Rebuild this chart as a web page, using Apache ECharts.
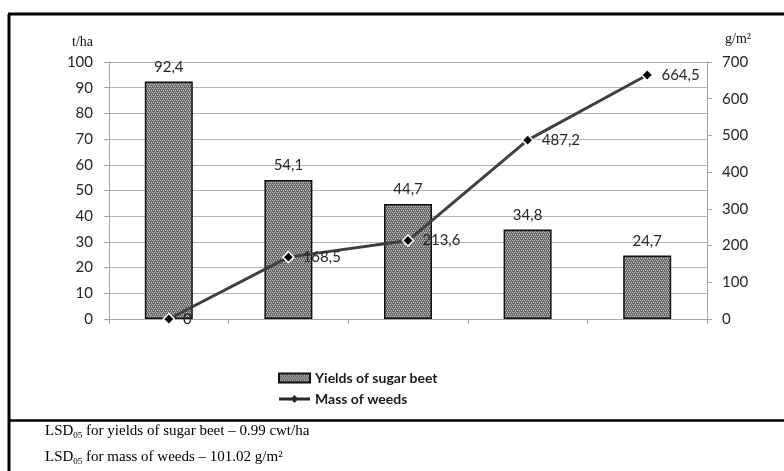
<!DOCTYPE html>
<html><head><meta charset="utf-8">
<script src="https://cdn.jsdelivr.net/npm/echarts@6/dist/echarts.min.js"></script>
<style>html,body{margin:0;padding:0;background:#fff}#c{width:784px;height:471px}</style>
</head><body><div id="c"></div>
<script>
const categories = ['1', '2', '3', '4', '5'];
const yields = [92.4, 54.1, 44.7, 34.8, 24.7];
const weeds = [0, 168.5, 213.6, 487.2, 664.5];
const leftTicks = {min: 0, max: 100, interval: 10};
const rightTicks = {min: 0, max: 700, interval: 100};
const seriesNames = ['Yields of sugar beet', 'Mass of weeds'];
const footnotes = [
  ['LSD', '05', ' for yields of sugar beet \u2013 0.99 cwt/ha'],
  ['LSD', '05', ' for mass of weeds \u2013 101.02 g/m\u00B2']
];

function pattern() {
  const c = document.createElement('canvas');
  c.width = 4; c.height = 4;
  const g = c.getContext('2d');
  g.fillStyle = '#666'; g.fillRect(0, 0, 4, 4);
  g.fillStyle = '#c4c4c4';
  g.fillRect(0, 0, 1, 1); g.fillRect(2, 0, 1, 1);
  g.fillRect(1, 2, 1, 1); g.fillRect(3, 2, 1, 1);
  g.fillStyle = '#959595';
  g.fillRect(1, 1, 1, 1); g.fillRect(3, 3, 1, 1);
  return c;
}
const fmt = v => String(v).replace('.', ',');
const chart = echarts.init(document.getElementById('c'));
const numFont = 'Lato';
const fill = {image: pattern(), repeat: 'repeat'};
chart.setOption({
  animation: false,
  grid: {left: 109, right: 77, top: 62, bottom: 152},
  legend: {
    orient: 'vertical', left: 273, top: 366, itemWidth: 31, itemHeight: 9, itemGap: 7,
    textStyle: {fontFamily: numFont, fontWeight: 'bold', fontSize: 14, color: '#1a1a1a'},
    data: [
      {name: seriesNames[0], icon: 'rect'},
      {name: seriesNames[1],
       icon: 'path://M0,34 L310,34 L310,62 L0,62 Z M155,8 L195,48 L155,88 L115,48 Z',
       itemStyle: {color: '#2a2a2a', borderWidth: 0}}
    ]
  },
  xAxis: {
    type: 'category', data: categories,
    axisLine: {lineStyle: {color: '#a6a6a6', width: 1}},
    axisTick: {show: true, length: 5, lineStyle: {color: '#a6a6a6'}},
    axisLabel: {show: false}
  },
  yAxis: [
    {type: 'value', min: leftTicks.min, max: leftTicks.max, interval: leftTicks.interval,
     axisLine: {show: true, lineStyle: {color: '#a6a6a6'}},
     axisTick: {show: true, length: 5, lineStyle: {color: '#a6a6a6'}},
     axisLabel: {margin: 16, fontFamily: numFont, fontSize: 15, color: '#262626'},
     splitLine: {lineStyle: {color: '#b4b4b4'}}},
    {type: 'value', min: rightTicks.min, max: rightTicks.max, interval: rightTicks.interval, position: 'right',
     axisLine: {show: true, lineStyle: {color: '#a6a6a6'}},
     axisTick: {show: true, length: 5, lineStyle: {color: '#a6a6a6'}},
     axisLabel: {margin: 15, fontFamily: numFont, fontSize: 15, color: '#262626'},
     splitLine: {show: false}}
  ],
  series: [
    {name: seriesNames[0], type: 'bar', yAxisIndex: 0, data: yields, barWidth: 48,
     itemStyle: {color: fill, borderColor: '#111', borderWidth: 1.5},
     label: {show: true, position: 'top', distance: 7, formatter: p => fmt(p.value),
             fontFamily: numFont, fontSize: 15, color: '#262626'}},
    {name: seriesNames[1], type: 'line', yAxisIndex: 1, data: weeds,
     symbol: 'diamond', symbolSize: 11, z: 5,
     lineStyle: {color: '#404040', width: 3},
     itemStyle: {color: '#000', borderColor: '#fff', borderWidth: 1.5},
     label: {show: true, position: 'right', distance: 8, formatter: p => fmt(p.value),
             fontFamily: numFont, fontSize: 15, color: '#262626'}}
  ],
  graphic: [
    {type: 'line', shape: {x1: 8, y1: 14, x2: 784, y2: 14}, style: {stroke: '#000', lineWidth: 3}},
    {type: 'line', shape: {x1: 9, y1: 14, x2: 9, y2: 471}, style: {stroke: '#000', lineWidth: 3}},
    {type: 'line', shape: {x1: 8, y1: 420.5, x2: 784, y2: 420.5}, style: {stroke: '#000', lineWidth: 2.5}},
    {type: 'text', left: 72, top: 35, style: {text: 't/ha', font: '14px "Liberation Serif"', fill: '#111'}},
    {type: 'text', left: 725, top: 32, style: {text: 'g/m\u00B2', font: '14px "Liberation Serif"', fill: '#111'}},
    ...footnotes.map((f, i) => ({
      type: 'text', left: 45, top: 424 + i * 26,
      style: {
        text: '{a|' + f[0] + '}{s|' + f[1] + '}{a|' + f[2] + '}',
        rich: {
          a: {fontFamily: 'Liberation Serif', fontSize: 15, color: '#111', lineHeight: 18},
          s: {fontFamily: 'Liberation Serif', fontSize: 9, color: '#111', verticalAlign: 'bottom', lineHeight: 18, padding: [6, 0, 0, 0]}
        }
      }
    }))
  ]
});
</script></body></html>
